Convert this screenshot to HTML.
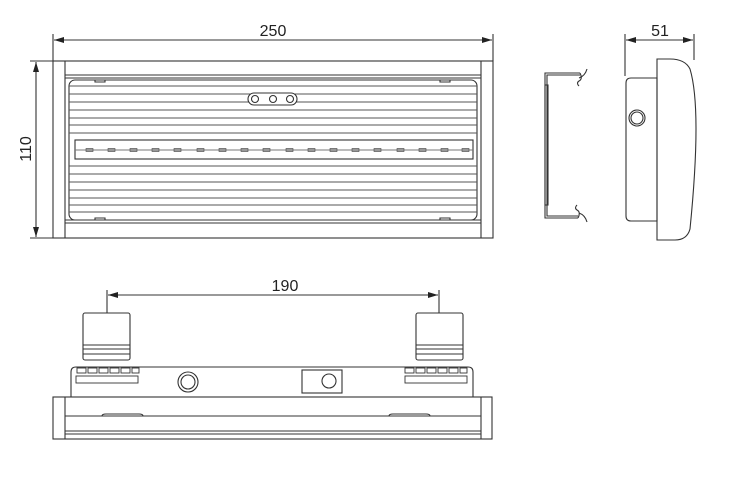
<!DOCTYPE html>
<html><head><style>body{margin:0;background:#fff}svg{display:block}text{font-family:"Liberation Sans",sans-serif;font-size:16px;fill:#222}</style></head><body>
<svg width="734" height="482" viewBox="0 0 734 482" fill="none" stroke="#333" stroke-width="1.1">
<defs><marker id="a" markerWidth="10" markerHeight="6" refX="10" refY="3" orient="auto-start-reverse" markerUnits="userSpaceOnUse"><path d="M0,0L10,3L0,6z" fill="#222" stroke="none"/></marker></defs>
<line x1="53" y1="34" x2="53" y2="61"/><line x1="493" y1="34" x2="493" y2="61"/>
<line x1="54" y1="40" x2="492" y2="40" marker-start="url(#a)" marker-end="url(#a)"/>
<text x="273" y="36" text-anchor="middle" stroke="none">250</text>
<line x1="30" y1="61" x2="53" y2="61"/><line x1="30" y1="238" x2="53" y2="238"/>
<line x1="36" y1="62" x2="36" y2="237" marker-start="url(#a)" marker-end="url(#a)"/>
<text transform="translate(31,149) rotate(-90)" text-anchor="middle" stroke="none">110</text>
<line x1="625" y1="34" x2="625" y2="76"/><line x1="694" y1="34" x2="694" y2="60"/>
<line x1="626" y1="40" x2="693" y2="40" marker-start="url(#a)" marker-end="url(#a)"/>
<text x="660" y="36" text-anchor="middle" stroke="none">51</text>
<line x1="107" y1="290" x2="107" y2="313"/><line x1="439" y1="290" x2="439" y2="313"/>
<line x1="108" y1="295" x2="438" y2="295" marker-start="url(#a)" marker-end="url(#a)"/>
<text x="285" y="291" text-anchor="middle" stroke="none">190</text>
<rect x="53" y="61" width="440" height="177"/>
<line x1="65" y1="61" x2="65" y2="238"/><line x1="481" y1="61" x2="481" y2="238"/>
<line x1="65" y1="75" x2="481" y2="75"/><line x1="65" y1="78" x2="481" y2="78"/>
<line x1="65" y1="223" x2="481" y2="223"/><line x1="65" y1="220" x2="481" y2="220"/>
<rect x="69" y="80" width="408" height="140" rx="6"/>
<g stroke="#555" stroke-width="0.9">
<line x1="69" y1="86" x2="477" y2="86"/><line x1="69" y1="94" x2="477" y2="94"/><line x1="69" y1="102" x2="477" y2="102"/><line x1="69" y1="110" x2="477" y2="110"/><line x1="69" y1="118" x2="477" y2="118"/><line x1="69" y1="125" x2="477" y2="125"/><line x1="69" y1="133" x2="477" y2="133"/>
<line x1="69" y1="166" x2="477" y2="166"/><line x1="69" y1="174" x2="477" y2="174"/><line x1="69" y1="182" x2="477" y2="182"/><line x1="69" y1="190" x2="477" y2="190"/><line x1="69" y1="198" x2="477" y2="198"/><line x1="69" y1="205" x2="477" y2="205"/><line x1="69" y1="212" x2="477" y2="212"/>
</g>
<rect x="75" y="140" width="398" height="19" fill="#fff"/>
<line x1="75" y1="150" x2="473" y2="150" stroke="#777"/>
<g fill="#999" stroke="#444" stroke-width="0.6">
<rect x="86" y="148.5" width="7" height="3"/><rect x="108" y="148.5" width="7" height="3"/><rect x="130" y="148.5" width="7" height="3"/><rect x="152" y="148.5" width="7" height="3"/><rect x="174" y="148.5" width="7" height="3"/><rect x="197" y="148.5" width="7" height="3"/><rect x="219" y="148.5" width="7" height="3"/><rect x="241" y="148.5" width="7" height="3"/><rect x="263" y="148.5" width="7" height="3"/><rect x="286" y="148.5" width="7" height="3"/><rect x="308" y="148.5" width="7" height="3"/><rect x="330" y="148.5" width="7" height="3"/><rect x="352" y="148.5" width="7" height="3"/><rect x="374" y="148.5" width="7" height="3"/><rect x="397" y="148.5" width="7" height="3"/><rect x="419" y="148.5" width="7" height="3"/><rect x="441" y="148.5" width="7" height="3"/><rect x="462" y="148.5" width="7" height="3"/>
</g>
<rect x="248" y="93" width="49" height="12" rx="6" fill="#fff"/>
<circle cx="255" cy="99" r="3.5"/><circle cx="273" cy="99" r="3.5"/><circle cx="290" cy="99" r="3.5"/>
<path d="M95 80v2h10v-2M440 80v2h10v-2M95 220v-2h10v2M440 220v-2h10v2"/>
<path d="M580 73H545V218H578M580 75H547V216H578"/>
<rect x="545" y="85" width="3" height="120"/>
<path d="M580 73q3 6 -1 8q-3 2 0 5M579 78q6 -2 8 -9M578 218q3-6-1-8q-3-2 0-5M579 213q6 2 8 9"/>
<path d="M631 78H657V221H631q-5 0-5-5V83q0-5 5-5z"/>
<path d="M657 59H670q15 0 20 10q12 40 0 160q-3 11-15 11H657z"/>
<circle cx="637" cy="118" r="8"/><circle cx="637" cy="118" r="6"/>
<rect x="83" y="313" width="47" height="47" rx="2"/><line x1="83" y1="345" x2="130" y2="345"/><line x1="83" y1="349" x2="130" y2="349"/><line x1="83" y1="354" x2="130" y2="354"/>
<rect x="416" y="313" width="47" height="47" rx="2"/><line x1="416" y1="345" x2="463" y2="345"/><line x1="416" y1="349" x2="463" y2="349"/><line x1="416" y1="354" x2="463" y2="354"/>
<path d="M71 397V372q0-5 5-5H468q5 0 5 5V397"/>
<g stroke-width="0.9"><rect x="77" y="368" width="9" height="5"/><rect x="88" y="368" width="9" height="5"/><rect x="99" y="368" width="9" height="5"/><rect x="110" y="368" width="9" height="5"/><rect x="121" y="368" width="9" height="5"/><rect x="132" y="368" width="7" height="5"/>
<rect x="405" y="368" width="9" height="5"/><rect x="416" y="368" width="9" height="5"/><rect x="427" y="368" width="9" height="5"/><rect x="438" y="368" width="9" height="5"/><rect x="449" y="368" width="9" height="5"/><rect x="460" y="368" width="7" height="5"/>
<rect x="76" y="376" width="62" height="7"/><rect x="405" y="376" width="62" height="7"/></g>
<circle cx="188" cy="382" r="10"/><circle cx="188" cy="382" r="7"/>
<rect x="302" y="370" width="40" height="23"/><circle cx="329" cy="381" r="7"/>
<rect x="53" y="397" width="439" height="42"/>
<line x1="65" y1="397" x2="65" y2="439"/><line x1="481" y1="397" x2="481" y2="439"/>
<line x1="65" y1="416" x2="481" y2="416"/><line x1="65" y1="431" x2="481" y2="431"/><line x1="65" y1="434" x2="481" y2="434"/>
<path d="M102 416q0-2 4-2h33q4 0 4 2M389 416q0-2 4-2h33q4 0 4 2"/>
</svg>
</body></html>
